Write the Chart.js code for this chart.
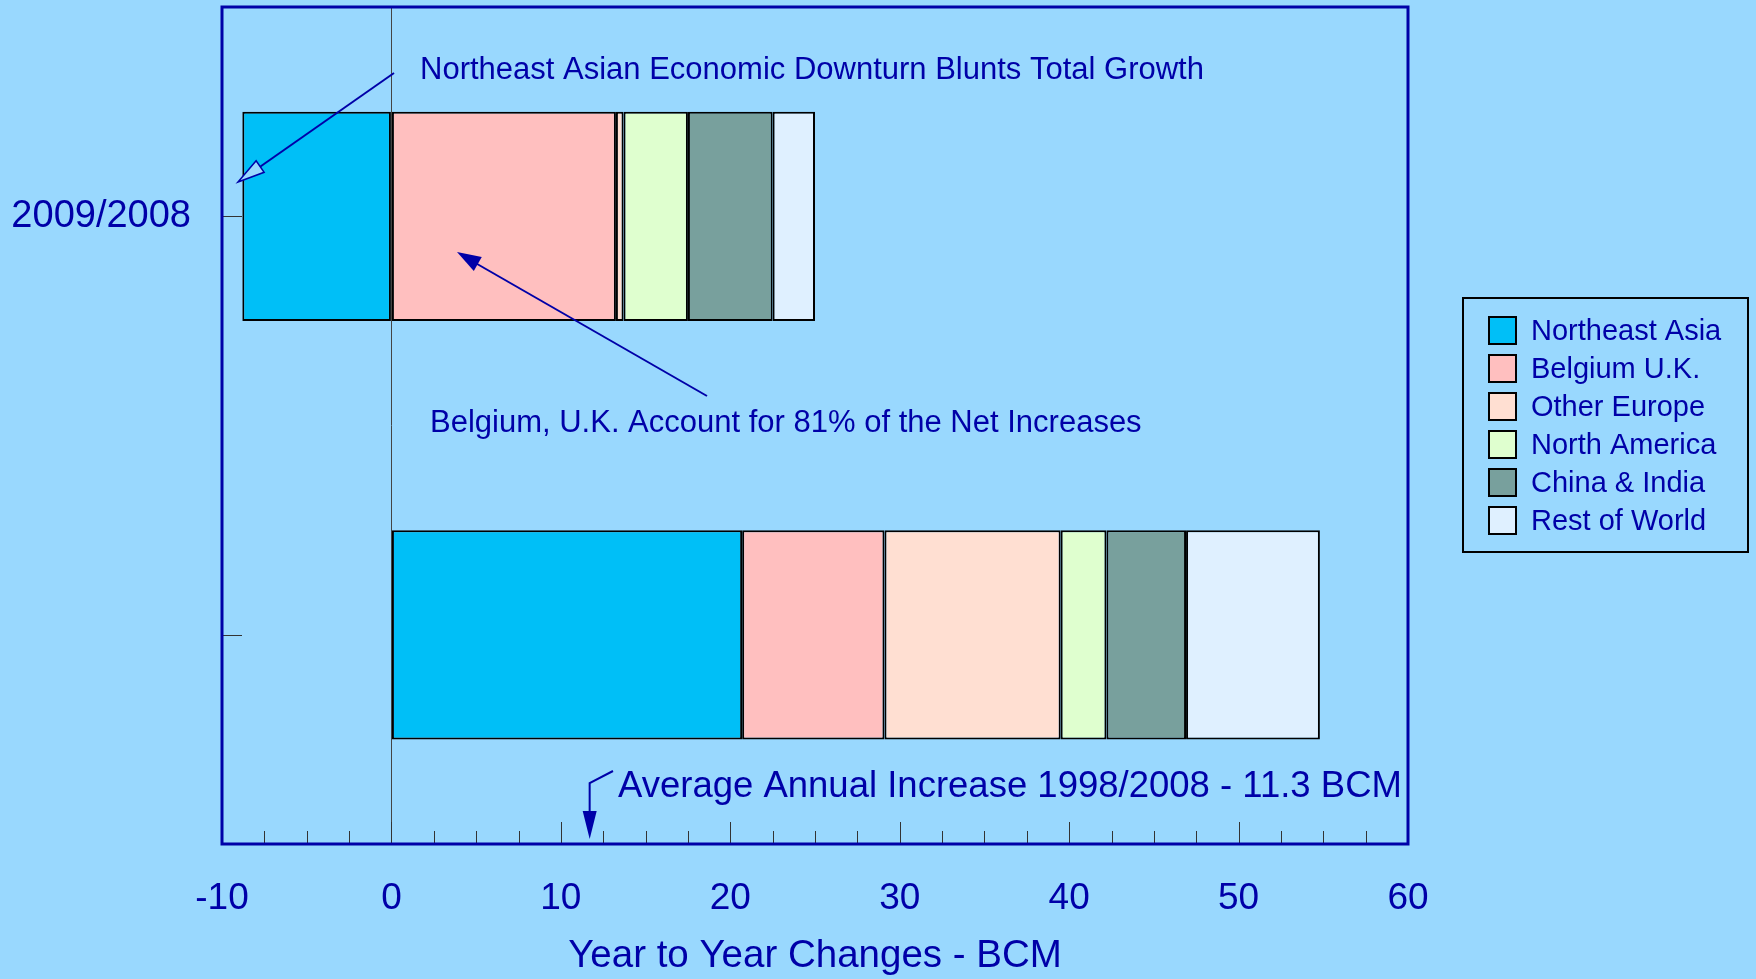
<!DOCTYPE html>
<html>
<head>
<meta charset="utf-8">
<script src="https://cdn.jsdelivr.net/npm/chart.js"></script>
<style>
  body { margin: 0; padding: 0; background: #99D8FE; }
  canvas { display: block; }
</style>
</head>
<body>
<canvas id="changesChart" width="1756" height="979"></canvas>
<script>
// categories (second bar has no label in the original)
const categories = ['2009/2008', ''];
const regions = ['Northeast Asia', 'Belgium U.K.', 'Other Europe', 'North America', 'China & India', 'Rest of World'];

// BCM changes, one array per region, same order as categories
const northeastAsia = [-8.8, 20.7];
const belgiumUK     = [13.25, 8.4];
const otherEurope   = [0.45, 10.4];
const northAmerica  = [3.8, 2.7];
const chinaIndia    = [5.0, 4.7];
const restOfWorld   = [2.5, 7.9];

const regionColors = ['#00BFF7', '#FFBFBF', '#FFDFD2', '#DFFFCF', '#78A09D', '#DFF0FF'];

const xMin = -10, xMax = 60, xMajor = 10, xMinor = 2.5;
const avgArrowAt = 11.7; // where the "average" arrow points on the axis

const ink = '#0000A8';
const bg = '#99D8FE';
const font = "'Liberation Sans', Arial, sans-serif";

const seriesValues = [northeastAsia, belgiumUK, otherEurope, northAmerica, chinaIndia, restOfWorld];

const datasets = regions.map((name, i) => ({
  label: name,
  data: seriesValues[i],
  backgroundColor: regionColors[i],
  borderColor: '#000',
  borderWidth: 2,
  borderSkipped: false,
  barPercentage: 1,
  categoryPercentage: 0.5
}));

function arrowHead(ctx, fx, fy, tx, ty, len, half, filled) {
  const ang = Math.atan2(ty - fy, tx - fx);
  const bx = tx - len * Math.cos(ang), by = ty - len * Math.sin(ang);
  const nx = -Math.sin(ang) * half, ny = Math.cos(ang) * half;
  ctx.beginPath();
  ctx.moveTo(tx, ty);
  ctx.lineTo(bx + nx, by + ny);
  ctx.lineTo(bx - nx, by - ny);
  ctx.closePath();
  if (filled) ctx.fill(); else { ctx.fillStyle = bg; ctx.fill(); ctx.stroke(); ctx.fillStyle = ink; }
}

const extras = {
  id: 'extras',
  beforeDraw(chart) {
    const ctx = chart.ctx;
    ctx.save();
    ctx.fillStyle = bg;
    ctx.fillRect(0, 0, chart.width, chart.height);
    ctx.restore();
  },
  afterDraw(chart) {
    const { ctx, chartArea: a, scales: { x, y } } = chart;
    ctx.save();

    // tick marks inside the frame
    ctx.strokeStyle = '#333';
    ctx.lineWidth = 1;
    for (let v = xMin; v <= xMax; v += xMinor) {
      const px = Math.round(x.getPixelForValue(v)) + 0.5;
      const len = v % xMajor === 0 ? 22 : 13;
      ctx.beginPath();
      ctx.moveTo(px, a.bottom);
      ctx.lineTo(px, a.bottom - len);
      ctx.stroke();
    }
    y.ticks.forEach((t, i) => {
      const py = Math.round(y.getPixelForTick(i)) + 0.5;
      ctx.beginPath();
      ctx.moveTo(a.left, py);
      ctx.lineTo(a.left + 20, py);
      ctx.stroke();
    });

    // plot frame
    ctx.strokeStyle = ink;
    ctx.lineWidth = 3;
    ctx.strokeRect(a.left, a.top, a.right - a.left, a.bottom - a.top);

    // annotations
    ctx.fillStyle = ink;
    ctx.strokeStyle = ink;
    ctx.lineWidth = 2;
    ctx.textBaseline = 'middle';
    ctx.textAlign = 'left';

    ctx.font = '31px ' + font;
    ctx.fillText('Northeast Asian Economic Downturn Blunts Total Growth', 420, 70);
    ctx.beginPath();
    ctx.moveTo(394, 73);
    ctx.lineTo(244, 178);
    ctx.stroke();
    ctx.lineWidth = 1.5;
    arrowHead(ctx, 394, 73, 238, 182, 27, 7, false);

    ctx.lineWidth = 2;
    ctx.font = '31px ' + font;
    ctx.fillText('Belgium, U.K. Account for 81% of the Net Increases', 430, 423);
    ctx.beginPath();
    ctx.moveTo(707, 396);
    ctx.lineTo(465, 257);
    ctx.stroke();
    arrowHead(ctx, 707, 396, 457, 252, 24, 8, true);

    ctx.font = '36.5px ' + font;
    ctx.fillText('Average Annual Increase 1998/2008 - 11.3 BCM', 618, 787);
    const ax = x.getPixelForValue(avgArrowAt);
    ctx.beginPath();
    ctx.moveTo(613, 771);
    ctx.lineTo(ax, 783);
    ctx.lineTo(ax, 815);
    ctx.stroke();
    arrowHead(ctx, ax, 783, ax, a.bottom - 5, 28, 7, true);

    // legend
    const lx = a.right + 55, ly = 298, lw = 285, lh = 254;
    ctx.strokeStyle = '#000';
    ctx.lineWidth = 2;
    ctx.strokeRect(lx, ly, lw, lh);
    ctx.font = '29px ' + font;
    chart.data.datasets.forEach((ds, i) => {
      const cy = 330 + i * 38;
      ctx.fillStyle = ds.backgroundColor;
      ctx.fillRect(lx + 26, cy - 13, 27, 27);
      ctx.strokeRect(lx + 26, cy - 13, 27, 27);
      ctx.fillStyle = ink;
      ctx.fillText(ds.label, lx + 68, cy + 2);
    });

    ctx.restore();
  }
};

new Chart(document.getElementById('changesChart'), {
  type: 'bar',
  data: { labels: categories, datasets: datasets },
  options: {
    indexAxis: 'y',
    responsive: false,
    animation: false,
    layout: { padding: { top: 7, right: 348, bottom: 0, left: 0 } },
    plugins: {
      legend: { display: false },
      tooltip: { enabled: false }
    },
    scales: {
      x: {
        stacked: true,
        min: xMin,
        max: xMax,
        border: { display: false },
        grid: {
          drawTicks: false,
          lineWidth: 1,
          color: c => (c.tick && c.tick.value === 0 ? '#444' : 'rgba(0,0,0,0)')
        },
        ticks: {
          stepSize: xMajor,
          autoSkip: false,
          maxRotation: 0,
          padding: 33,
          color: ink,
          font: { family: font, size: 37 }
        },
        title: {
          display: true,
          text: 'Year to Year Changes - BCM',
          color: ink,
          font: { family: font, size: 38.5 },
          padding: { top: 18, bottom: 0 }
        },
        afterFit: s => {
          s.height = 135;
          s.paddingLeft = 0;
          s.paddingRight = 0;
        }
      },
      y: {
        stacked: true,
        offset: true,
        border: { display: false },
        grid: { display: false, drawTicks: false },
        ticks: {
          padding: 31,
          color: ink,
          font: { family: font, size: 38 }
        },
        afterFit: s => {
          s.width = 222;
          s.paddingTop = 0;
          s.paddingBottom = 0;
        }
      }
    }
  },
  plugins: [extras]
});
</script>
</body>
</html>
